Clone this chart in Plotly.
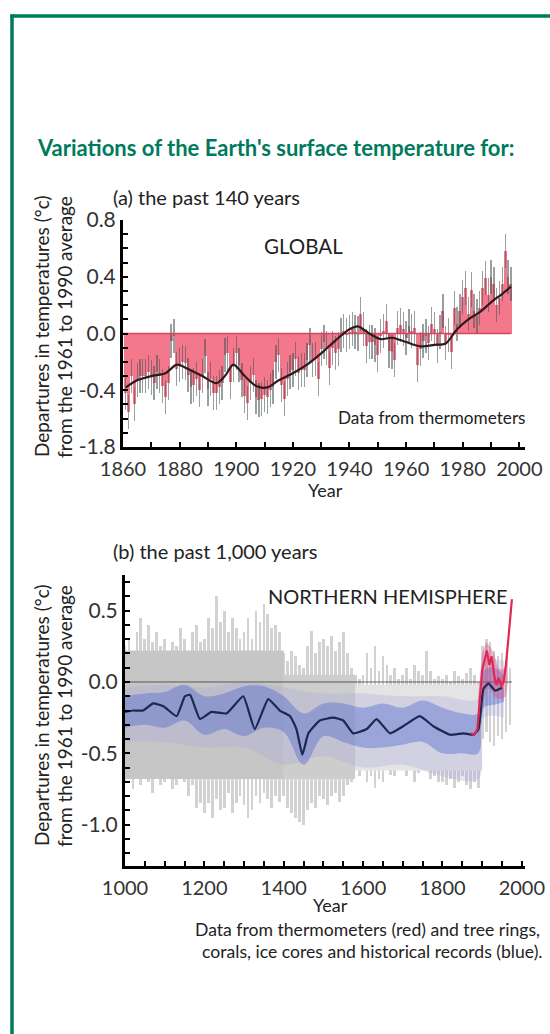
import plotly.graph_objects as go

W, H = 550, 1034
FONT = "Lato"
GREEN = "rgb(0,122,92)"
INK = "#222222"

# ---------------- (a) global, thermometer record ----------------
years_a = list(range(1861, 1998))
anom_a = [
    -0.42, -0.55, -0.30, -0.50, -0.33, -0.30, -0.30, -0.30, -0.27, -0.31,
    -0.35, -0.27, -0.30, -0.37, -0.45, -0.35, -0.05, -0.02, -0.25, -0.22,
    -0.20, -0.21, -0.29, -0.38, -0.36, -0.32, -0.40, -0.30, -0.16, -0.39,
    -0.32, -0.42, -0.42, -0.38, -0.35, -0.15, -0.14, -0.34, -0.22, -0.14,
    -0.22, -0.33, -0.44, -0.49, -0.35, -0.29, -0.45, -0.47, -0.46, -0.43,
    -0.45, -0.40, -0.38, -0.20, -0.15, -0.36, -0.46, -0.32, -0.27, -0.26,
    -0.18, -0.28, -0.26, -0.26, -0.19, -0.08, -0.19, -0.18, -0.32, -0.11,
    -0.06, -0.10, -0.24, -0.10, -0.14, -0.11, -0.01, 0.02, -0.01, 0.01,
    0.03, 0.01, 0.00, 0.14, 0.03, -0.09, -0.06, -0.06, -0.08, -0.15,
    -0.02, 0.02, 0.09, -0.12, -0.13, -0.19, 0.04, 0.06, 0.03, -0.03,
    0.05, 0.02, 0.04, -0.22, -0.11, -0.05, -0.02, -0.07, 0.07, 0.03,
    -0.09, 0.01, 0.16, -0.07, -0.01, -0.13, 0.18, 0.07, 0.16, 0.26,
    0.32, 0.14, 0.31, 0.16, 0.12, 0.18, 0.32, 0.39, 0.27, 0.40,
    0.35, 0.20, 0.25, 0.35, 0.58, 0.40, 0.35,
]
annual_err_a = 0.12

smooth_years_a = [1861, 1865, 1870, 1875, 1879, 1883, 1888, 1893, 1896, 1899,
                  1903, 1907, 1911, 1915, 1920, 1925, 1930, 1935, 1940, 1943,
                  1947, 1951, 1955, 1960, 1965, 1970, 1974, 1978, 1982, 1986,
                  1990, 1994, 1997]
smooth_a = [-0.38, -0.33, -0.30, -0.28, -0.22, -0.25, -0.30, -0.35, -0.30, -0.22,
            -0.30, -0.37, -0.38, -0.33, -0.28, -0.22, -0.14, -0.05, 0.03, 0.05,
            0.00, -0.04, -0.03, -0.06, -0.09, -0.08, -0.07, 0.03, 0.10, 0.15,
            0.22, 0.28, 0.33]

ticks_a_y = [0.8, 0.4, 0.0, -0.4, -0.8]
ticklabels_a_y = ["0.8", "0.4", "0.0", "-0.4", "-1.8"]
ticks_a_x = [1860, 1880, 1900, 1920, 1940, 1960, 1980, 2000]

# ---------------- (b) northern hemisphere, 1000 years ----------------
spike_years = list(range(1000, 1980, 10))
spike_hi = [
    0.25, 0.30, 0.22, 0.35, 0.45, 0.30, 0.40, 0.28, 0.35, 0.25,
    0.30, 0.20, 0.28, 0.25, 0.38, 0.30, 0.22, 0.35, 0.40, 0.28,
    0.30, 0.45, 0.38, 0.60, 0.42, 0.50, 0.35, 0.45, 0.38, 0.30,
    0.35, 0.45, 0.30, 0.50, 0.42, 0.55, 0.48, 0.38, 0.40, 0.35,
    0.20, 0.15, 0.22, 0.18, 0.12, 0.10, 0.25, 0.36, 0.20, 0.28,
    0.30, 0.25, 0.32, 0.22, 0.28, 0.35, 0.20, 0.10, 0.05, 0.02,
    0.05, 0.20, 0.10, 0.25, 0.08, 0.18, 0.12, 0.05, 0.10, 0.02,
    0.05, 0.10, 0.02, 0.12, 0.08, 0.05, 0.22, 0.08, 0.02, 0.04,
    0.02, 0.05, 0.00, 0.08, 0.04, 0.02, 0.06, 0.10, 0.05, 0.00,
    0.25, 0.30, 0.28, 0.22, 0.18, 0.20, 0.15, 0.10,
]
spike_lo = [
    -0.70, -0.62, -0.75, -0.68, -0.72, -0.65, -0.70, -0.78, -0.66, -0.72,
    -0.70, -0.66, -0.75, -0.72, -0.65, -0.70, -0.80, -0.72, -0.88, -0.85,
    -0.92, -0.85, -0.95, -0.82, -0.90, -0.88, -0.78, -0.92, -0.85, -0.80,
    -0.86, -0.95, -0.90, -0.80, -0.85, -0.78, -0.82, -0.88, -0.80, -0.84,
    -0.80, -0.88, -0.92, -0.95, -0.98, -1.00, -0.90, -0.85, -0.88, -0.80,
    -0.82, -0.86, -0.80, -0.78, -0.84, -0.80, -0.72, -0.70, -0.62, -0.66,
    -0.62, -0.70, -0.66, -0.74, -0.68, -0.70, -0.62, -0.65, -0.66, -0.60,
    -0.60, -0.66, -0.62, -0.70, -0.64, -0.62, -0.58, -0.68, -0.66, -0.70,
    -0.70, -0.72, -0.68, -0.74, -0.70, -0.66, -0.72, -0.75, -0.70, -0.74,
    -0.40, -0.35, -0.42, -0.45, -0.38, -0.40, -0.35, -0.30,
]

core_years = [1000, 1400, 1580, 1900]
core_hi = [0.22, 0.05, -0.02]
core_lo = [-0.68, -0.68, -0.62]
core_colors = ["#c6c6c6", "#cdcdcd", "#e4e4e4"]

haze_years = [1000, 1100, 1200, 1300, 1400, 1500, 1600, 1700, 1800, 1890, 1905, 1955]
haze_hi = [-0.04, -0.02, -0.04, 0.00, -0.04, -0.08, -0.08, -0.10, -0.10, -0.12, 0.15, 0.15]
haze_lo = [-0.42, -0.42, -0.46, -0.46, -0.58, -0.52, -0.60, -0.58, -0.66, -0.68, -0.25, -0.25]

blue_years = [1000, 1050, 1100, 1150, 1200, 1250, 1300, 1350, 1400, 1450, 1500,
              1550, 1600, 1650, 1700, 1750, 1800, 1850, 1890, 1905, 1930, 1955]
blue_hi = [-0.10, -0.08, -0.07, -0.02, -0.10, -0.08, -0.03, -0.03, -0.10, -0.22, -0.15,
           -0.15, -0.18, -0.15, -0.18, -0.13, -0.18, -0.22, -0.22, 0.08, 0.10, 0.04]
blue_lo = [-0.32, -0.30, -0.32, -0.27, -0.37, -0.33, -0.38, -0.32, -0.35, -0.58, -0.38,
           -0.42, -0.46, -0.46, -0.44, -0.42, -0.50, -0.50, -0.50, -0.18, -0.16, -0.14]

nh_years = [1000, 1020, 1046, 1071, 1097, 1130, 1151, 1164, 1189, 1218,
            1256, 1298, 1327, 1361, 1390, 1416, 1432, 1447, 1462, 1491,
            1525, 1550, 1575, 1609, 1634, 1668, 1701, 1743, 1777, 1819,
            1853, 1878, 1891, 1903, 1916, 1933, 1950]
nh_smooth = [-0.21, -0.20, -0.20, -0.15, -0.17, -0.24, -0.10, -0.09, -0.26, -0.21,
             -0.22, -0.10, -0.33, -0.12, -0.20, -0.24, -0.33, -0.51, -0.36, -0.27,
             -0.25, -0.27, -0.36, -0.33, -0.26, -0.36, -0.31, -0.24, -0.31, -0.37,
             -0.36, -0.37, -0.33, -0.05, -0.01, -0.06, -0.04]

therm_band_years = [1890, 1900, 1910, 1920, 1930, 1940, 1950, 1960, 1965]
therm_hi = [-0.10, 0.20, 0.28, 0.25, 0.20, 0.10, 0.08, 0.12, 0.25]
therm_lo = [-0.40, -0.20, -0.05, -0.05, -0.10, -0.12, -0.12, -0.10, 0.00]

therm_years = [1872, 1880, 1888, 1894, 1900, 1906, 1912, 1918, 1924, 1930,
               1936, 1942, 1948, 1954, 1960, 1966, 1971, 1975]
therm_vals = [-0.36, -0.37, -0.33, -0.12, 0.08, 0.15, 0.22, 0.12, 0.18, 0.05,
              -0.02, 0.03, -0.03, 0.00, 0.12, 0.30, 0.45, 0.58]

ticks_b_y = [0.5, 0.0, -0.5, -1.0]
ticklabels_b_y = ["0.5", "0.0", "-0.5", "-1.0"]
ticks_b_x = [1000, 1200, 1400, 1600, 1800, 2000]


def px_x(p):
    return p / W


def px_y(p):
    return 1 - p / H


fig = go.Figure()

# (a) annual anomalies as bars from zero, with their uncertainty whiskers
fig.add_trace(go.Bar(
    x=years_a, y=anom_a, width=1.0, xaxis="x", yaxis="y",
    marker=dict(color="rgba(242,96,120,0.85)", line=dict(width=0)),
    error_y=dict(type="constant", value=annual_err_a, color="rgba(70,80,80,0.55)",
                 thickness=1.3, width=0),
))
fig.add_trace(go.Scatter(
    x=[years_a[0] - 1, years_a[-1]], y=[0, 0], mode="lines", xaxis="x", yaxis="y",
    line=dict(color="rgb(215,70,95)", width=1.5),
))
fig.add_trace(go.Scatter(
    x=smooth_years_a, y=smooth_a, mode="lines", xaxis="x", yaxis="y",
    line=dict(color="#2b1b1e", width=2.2, shape="spline", smoothing=0.8),
))

# (b) uncertainty range in grey
for i, col in enumerate(core_colors):
    fig.add_trace(go.Scatter(
        x=[core_years[i], core_years[i + 1]], y=[core_lo[i], core_lo[i]],
        mode="lines", line=dict(width=0), xaxis="x2", yaxis="y2",
    ))
    fig.add_trace(go.Scatter(
        x=[core_years[i], core_years[i + 1]], y=[core_hi[i], core_hi[i]],
        mode="lines", line=dict(width=0), fill="tonexty", fillcolor=col,
        xaxis="x2", yaxis="y2",
    ))
fig.add_trace(go.Bar(
    x=spike_years, y=[h - l for h, l in zip(spike_hi, spike_lo)], base=spike_lo,
    width=7, xaxis="x2", yaxis="y2",
    marker=dict(color="rgba(165,165,165,0.5)", line=dict(width=0)),
))

# annual proxy reconstruction (blue) with its haze
fig.add_trace(go.Scatter(x=haze_years, y=haze_lo, mode="lines",
                         line=dict(width=0, shape="spline"), xaxis="x2", yaxis="y2"))
fig.add_trace(go.Scatter(x=haze_years, y=haze_hi, mode="lines",
                         line=dict(width=0, shape="spline"),
                         fill="tonexty", fillcolor="rgba(165,165,220,0.30)",
                         xaxis="x2", yaxis="y2"))
fig.add_trace(go.Scatter(x=blue_years, y=blue_lo, mode="lines",
                         line=dict(width=0, shape="spline"), xaxis="x2", yaxis="y2"))
fig.add_trace(go.Scatter(x=blue_years, y=blue_hi, mode="lines",
                         line=dict(width=0, shape="spline"),
                         fill="tonexty", fillcolor="rgba(75,100,205,0.40)",
                         xaxis="x2", yaxis="y2"))

# zero reference line
fig.add_trace(go.Scatter(
    x=[spike_years[0], therm_years[-1]], y=[0, 0], mode="lines", xaxis="x2", yaxis="y2",
    line=dict(color="rgba(60,60,60,0.8)", width=1),
))

# thermometer record (red)
fig.add_trace(go.Scatter(x=therm_band_years, y=therm_lo, mode="lines", line=dict(width=0),
                         xaxis="x2", yaxis="y2"))
fig.add_trace(go.Scatter(x=therm_band_years, y=therm_hi, mode="lines", line=dict(width=0),
                         fill="tonexty", fillcolor="rgba(225,70,120,0.40)",
                         xaxis="x2", yaxis="y2"))

# 50-year smoothed reconstruction
fig.add_trace(go.Scatter(
    x=nh_years, y=nh_smooth, mode="lines", xaxis="x2", yaxis="y2",
    line=dict(color="#1c2850", width=2.2, shape="spline", smoothing=0.4),
))
fig.add_trace(go.Scatter(
    x=therm_years, y=therm_vals, mode="lines", xaxis="x2", yaxis="y2",
    line=dict(color="rgb(225,40,85)", width=2.2),
))

axis_common = dict(
    showline=True, linewidth=3, linecolor="black", mirror=False,
    ticks="inside", ticklen=5, tickwidth=2, tickcolor="black",
    showgrid=False, zeroline=False, fixedrange=True, automargin=False,
    tickfont=dict(family=FONT, size=20, color="#333333"),
)
ytick_font = dict(family=FONT, size=21, color="#333333")
minor_common = dict(ticks="inside", ticklen=5, tickwidth=2, tickcolor="black")

fig.update_layout(
    width=W, height=H,
    margin=dict(l=0, r=0, t=0, b=0, autoexpand=False),
    paper_bgcolor="white", plot_bgcolor="white",
    showlegend=False, bargap=0, barmode="overlay",
    xaxis=dict(
        axis_common, domain=[px_x(123), px_x(525)], range=[1860, 2002],
        anchor="y", tickvals=ticks_a_x, ticklabelstandoff=2,
        minor=dict(minor_common, dtick=10, tick0=1860),
    ),
    yaxis=dict(
        axis_common, domain=[px_y(447), px_y(220)], range=[-0.8, 0.8],
        anchor="x", tickvals=ticks_a_y, ticktext=ticklabels_a_y,
        ticklabelstandoff=0, tickfont=ytick_font,
        minor=dict(minor_common, dtick=0.1, tick0=0),
    ),
    xaxis2=dict(
        axis_common, domain=[px_x(125), px_x(525)], range=[1000, 2008],
        anchor="y2", tickvals=ticks_b_x, ticklabelstandoff=2,
        minor=dict(minor_common, dtick=50, tick0=1000),
    ),
    yaxis2=dict(
        axis_common, domain=[px_y(866), px_y(575)], range=[-1.29, 0.75],
        anchor="x2", tickvals=ticks_b_y, ticktext=ticklabels_b_y,
        ticklabelstandoff=0, tickfont=ytick_font,
        minor=dict(minor_common, dtick=0.1, tick0=0),
    ),
)

# green frame around the panel
fig.add_shape(type="line", xref="paper", yref="paper",
              x0=px_x(12), x1=px_x(12), y0=-0.01, y1=px_y(14.5),
              line=dict(color=GREEN, width=3.5))
fig.add_shape(type="line", xref="paper", yref="paper",
              x0=px_x(10.3), x1=1.02, y0=px_y(16), y1=px_y(16),
              line=dict(color=GREEN, width=3.5))


def text(t, x, y, size, xanchor="center", color=INK, bold=False, angle=0):
    fig.add_annotation(
        text=f"<b>{t}</b>" if bold else t,
        x=px_x(x), y=px_y(y), xref="paper", yref="paper",
        xanchor=xanchor, yanchor="middle", showarrow=False, textangle=angle,
        font=dict(family=FONT, size=size, color=color),
    )


text("Variations of the Earth's surface temperature for:", 35, 148, 22,
     xanchor="left", color=GREEN, bold=True)

text("(a) the past 140 years", 111, 197, 20, xanchor="left")
text("GLOBAL", 303, 246, 20.5)
text("Data from thermometers", 528, 417, 17.2, xanchor="right")
text("Year", 325, 490, 18)
text("Departures in temperatures (°c)", 41, 327, 19, angle=-90)
text("from the 1961 to 1990 average", 64, 327, 19, angle=-90)

text("(b) the past 1,000 years", 111, 551, 20, xanchor="left")
text("NORTHERN HEMISPHERE", 388, 596, 20)
text("Year", 330, 905, 18)
text("Departures in temperatures (°c)", 41, 716, 19, angle=-90)
text("from the 1961 to 1990 average", 64, 716, 19, angle=-90)
text("Data from thermometers (red) and tree rings,", 542, 929, 17.6, xanchor="right")
text("corals, ice cores and historical records (blue).", 545, 951, 17.6, xanchor="right")

fig.write_html("out.html")
